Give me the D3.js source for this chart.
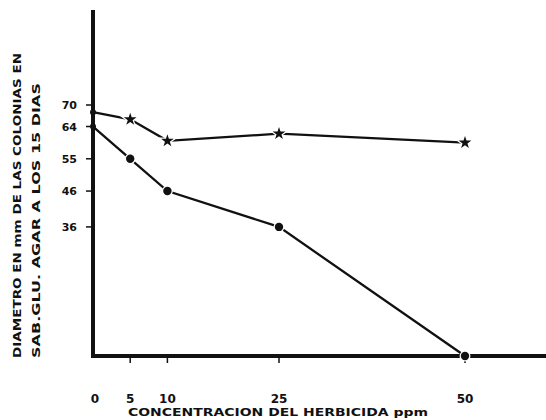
<!DOCTYPE html>
<html>
<head>
<meta charset="utf-8">
<script src="https://cdn.jsdelivr.net/npm/d3@7"></script>
<style>
  body { margin: 0; background: #fff; }
  text { font-family: "DejaVu Sans", sans-serif; font-weight: bold; fill: #111; }
</style>
</head>
<body>
<div id="chart"></div>
<script>
// concentracion del herbicida (ppm)
var concentrations = [0, 5, 10, 25, 50];
// serie superior (marcador estrella) y serie inferior (circulo)
var upperSeries = [68, 66, 60, 62, 59.5];
var lowerSeries = [64, 55, 46, 36, 0];
var yTicks = [70, 64, 55, 46, 36];
var yTickLabels = ["70", "64", "55", "46", "36"];
var xTicks = [0, 5, 10, 25, 50];

var width = 546, height = 420;
var x0 = 93, y0 = 356;

var svg = d3.select("#chart").append("svg")
  .attr("width", width)
  .attr("height", height);

var x = d3.scaleLinear().domain([0, 61]).range([x0, x0 + 61 * 7.44]);
var y = d3.scaleLinear().domain([0, 70]).range([y0, 105]);

// axes lines
svg.append("line")
  .attr("x1", x0).attr("x2", x0)
  .attr("y1", y0 + 2).attr("y2", 10)
  .attr("stroke", "#111").attr("stroke-width", 4);
svg.append("line")
  .attr("x1", x0 - 2).attr("x2", width)
  .attr("y1", y0).attr("y2", y0)
  .attr("stroke", "#111").attr("stroke-width", 4);

// y ticks
svg.selectAll(".ytick").data(yTicks).enter().append("line")
  .attr("x1", x0 - 7).attr("x2", x0)
  .attr("y1", d => y(d)).attr("y2", d => y(d))
  .attr("stroke", "#111").attr("stroke-width", 1.5);
svg.selectAll(".ylab").data(yTicks).enter().append("text")
  .attr("x", 77)
  .attr("y", d => y(d) + 4)
  .attr("text-anchor", "end")
  .attr("font-size", 11)
  .text((d, i) => yTickLabels[i]);

// x ticks
svg.selectAll(".xtick").data(xTicks.filter(d => d > 0)).enter().append("line")
  .attr("x1", d => x(d)).attr("x2", d => x(d))
  .attr("y1", y0).attr("y2", y0 + 7)
  .attr("stroke", "#111").attr("stroke-width", 1.5);
svg.selectAll(".xlab").data(xTicks).enter().append("text")
  .attr("x", d => d == 0 ? x0 + 2 : x(d))
  .attr("y", 403)
  .attr("text-anchor", "middle")
  .attr("font-size", 12)
  .text(d => d);

// axis titles
svg.append("text")
  .attr("x", 128).attr("y", 416)
  .attr("font-size", 10.5)
  .attr("textLength", 300)
  .attr("lengthAdjust", "spacingAndGlyphs")
  .text("CONCENTRACION DEL HERBICIDA ppm");

svg.append("text")
  .attr("transform", "translate(21,358) rotate(-90)")
  .attr("font-size", 11)
  .attr("textLength", 305)
  .attr("lengthAdjust", "spacingAndGlyphs")
  .text("DIAMETRO EN mm DE LAS COLONIAS EN");
svg.append("text")
  .attr("transform", "translate(40,358) rotate(-90)")
  .attr("font-size", 11)
  .attr("textLength", 275)
  .attr("lengthAdjust", "spacingAndGlyphs")
  .text("SAB.GLU. AGAR A LOS 15 DIAS");

var line = d3.line()
  .x(d => x(d[0]))
  .y(d => y(d[1]));

var upper = concentrations.map((c, i) => [c, upperSeries[i]]);
var lower = concentrations.map((c, i) => [c, lowerSeries[i]]);

svg.append("path").datum(upper)
  .attr("d", line).attr("fill", "none")
  .attr("stroke", "#111").attr("stroke-width", 2.3);
svg.append("path").datum(lower)
  .attr("d", line).attr("fill", "none")
  .attr("stroke", "#111").attr("stroke-width", 2.3);

// markers (white halo gives the small gap seen in the original)
var star = d3.symbol().type(d3.symbolStar).size(50);
svg.selectAll(".up").data(upper.slice(1)).enter().append("path")
  .attr("d", star)
  .attr("transform", d => "translate(" + x(d[0]) + "," + y(d[1]) + ")")
  .attr("fill", "#111").attr("stroke", "#fff").attr("stroke-width", 2.5)
  .attr("paint-order", "stroke");
svg.selectAll(".lo").data(lower.slice(1)).enter().append("circle")
  .attr("cx", d => x(d[0])).attr("cy", d => y(d[1]))
  .attr("r", 4.2)
  .attr("fill", "#111").attr("stroke", "#fff").attr("stroke-width", 2.5)
  .attr("paint-order", "stroke");
// points on the axis
svg.selectAll(".first").data([upper[0], lower[0]]).enter().append("circle")
  .attr("cx", d => x(d[0])).attr("cy", d => y(d[1]))
  .attr("r", 3).attr("fill", "#111");
</script>
</body>
</html>
